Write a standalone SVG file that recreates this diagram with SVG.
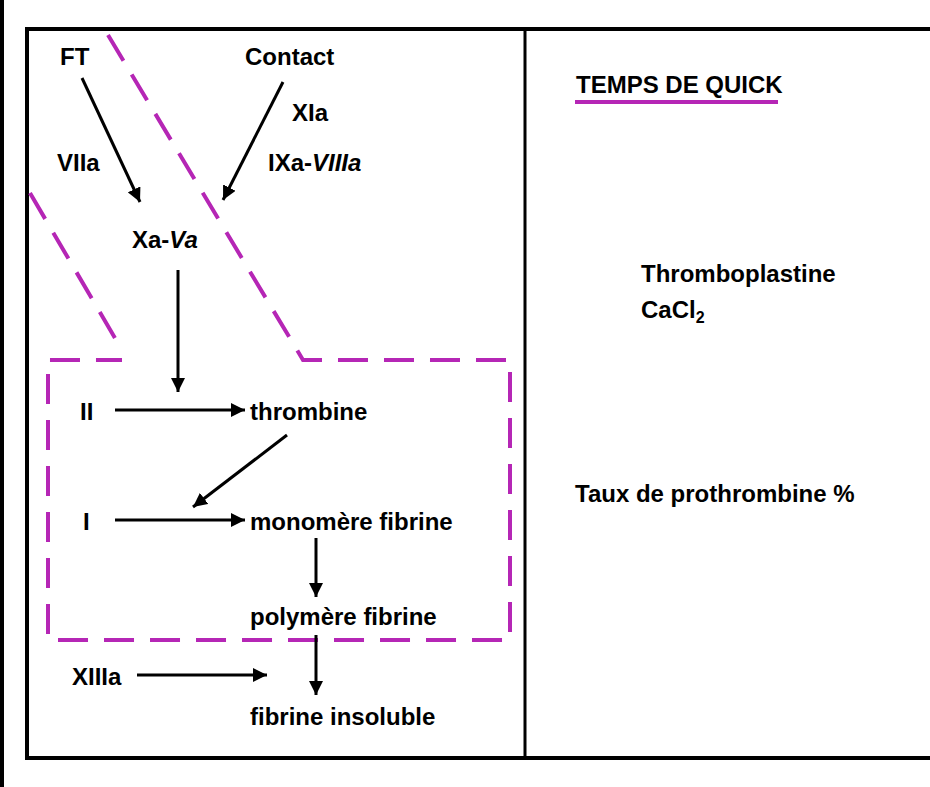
<svg xmlns="http://www.w3.org/2000/svg" width="930" height="787" viewBox="0 0 930 787">
<defs>
<marker id="ah" markerWidth="14" markerHeight="14" refX="12" refY="6" orient="auto" markerUnits="userSpaceOnUse" viewBox="0 0 12 12"><path d="M0,0 L12,6 L0,12 z" fill="#000"/></marker>
<style>
text{font-family:"Liberation Sans",Arial,sans-serif;font-weight:bold;font-size:24px;fill:#000}
.a{stroke:#000;stroke-width:3;fill:none;marker-end:url(#ah)}
.d{stroke:#b526b5;stroke-width:4;fill:none;stroke-dasharray:30 16}
</style>
</defs>
<rect width="930" height="787" fill="#fff"/>
<line x1="2" y1="0" x2="2" y2="787" stroke="#000" stroke-width="4"/>
<rect x="27" y="29" width="920" height="729" fill="none" stroke="#000" stroke-width="4"/>
<line x1="525" y1="29" x2="525" y2="758" stroke="#000" stroke-width="3"/>
<g id="zones">
<path class="d" d="M108,35 L303,360 L510,360 L510,640 L48,640 L48,360 L122,360"/>
<line class="d" x1="30" y1="193" x2="122" y2="350"/>
</g>
<g id="connectors">
<line class="a" x1="82" y1="78" x2="140" y2="202"/>
<line class="a" x1="283" y1="82" x2="223" y2="200"/>
<line class="a" x1="178" y1="270" x2="178" y2="392"/>
<line class="a" x1="115" y1="410" x2="245" y2="410"/>
<line class="a" x1="287" y1="435" x2="193" y2="507"/>
<line class="a" x1="115" y1="520" x2="245" y2="520"/>
<line class="a" x1="316" y1="538" x2="316" y2="597"/>
<line class="a" x1="316" y1="635" x2="316" y2="695"/>
<line class="a" x1="137" y1="675" x2="267" y2="675"/>
</g>
<g id="n-ft"><text x="60" y="65">FT</text></g>
<g id="n-contact"><text x="245" y="65">Contact</text></g>
<g id="n-xia"><text x="292" y="121">XIa</text></g>
<g id="n-viia"><text x="57" y="171">VIIa</text></g>
<g id="n-ixa"><text x="268" y="171">IXa-<tspan font-style="italic">VIIIa</tspan></text></g>
<g id="n-xa"><text x="132" y="248">Xa-<tspan font-style="italic">Va</tspan></text></g>
<g id="n-ii"><text x="80" y="420">II</text></g>
<g id="n-thrombine"><text x="250" y="420">thrombine</text></g>
<g id="n-i"><text x="83" y="530">I</text></g>
<g id="n-mono"><text x="250" y="530">monomère fibrine</text></g>
<g id="n-poly"><text x="250" y="625">polymère fibrine</text></g>
<g id="n-xiiia"><text x="72" y="685">XIIIa</text></g>
<g id="n-insol"><text x="250" y="725">fibrine insoluble</text></g>
<g id="n-quick"><text x="576" y="93" font-size="20">TEMPS DE QUICK</text>
<line x1="575" y1="102" x2="778" y2="102" stroke="#b526b5" stroke-width="4"/></g>
<g id="n-thrombo"><text x="641" y="282">Thromboplastine</text><text x="641" y="318">CaCl<tspan font-size="16" dy="5">2</tspan></text></g>
<g id="n-taux"><text x="575" y="502">Taux de prothrombine %</text></g>
</svg>
